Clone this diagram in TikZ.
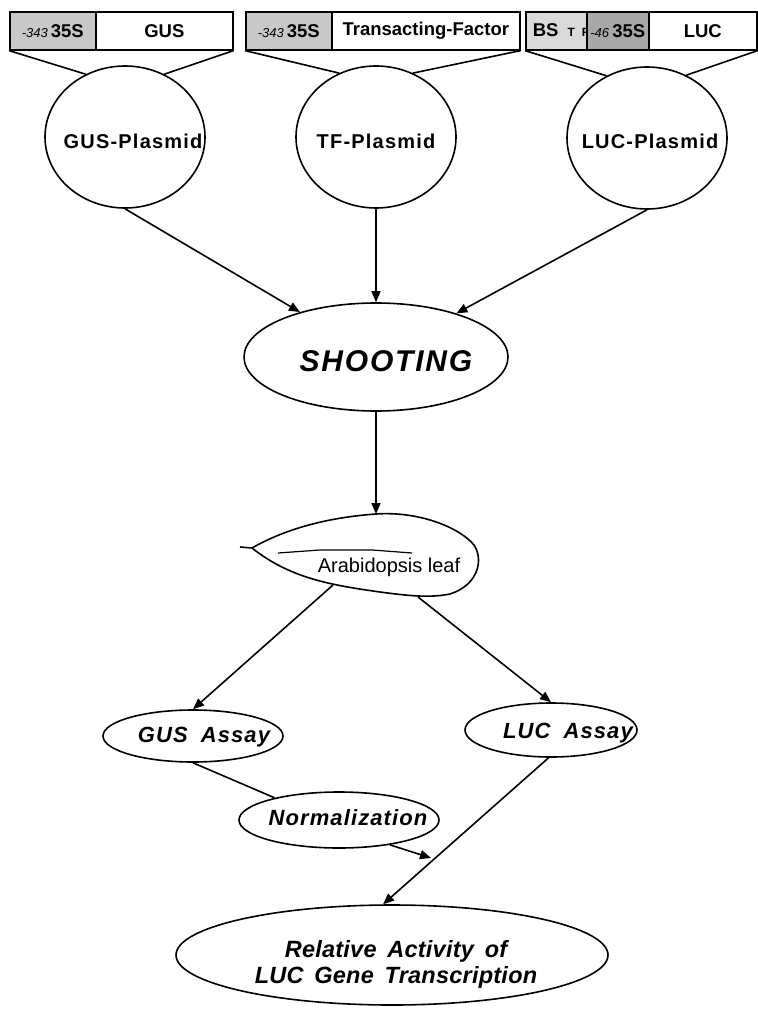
\documentclass[tikz,border=0pt]{standalone}
\usepackage{fontspec}
\setmainfont{Liberation Sans}
\newfontfamily\trackfont[LetterSpace=6]{Liberation Sans}
\newfontfamily\assayfont[LetterSpace=5,WordSpace=1.8]{Liberation Sans}
\newfontfamily\resultfont[LetterSpace=1,WordSpace=1.6]{Liberation Sans}
\usepackage{xcolor}
\usetikzlibrary{shapes,arrows.meta}
\definecolor{promgray}{RGB}{200,200,200}
\definecolor{bsgray}{RGB}{218,218,218}
\definecolor{coregray}{RGB}{168,168,168}

\begin{document}
\begin{tikzpicture}[x=1pt,y=-1pt,line width=1.6pt,
  seg/.style={draw,rectangle,anchor=north west,minimum height=38,inner sep=0,font=\fontsize{18.5}{18}\selectfont\bfseries},
  plasmid/.style={draw,ellipse,minimum width=160,minimum height=142,inner sep=0},
  plasmidtext/.style={inner sep=0,font=\trackfont\bfseries\fontsize{20}{20}\selectfont},
  oval/.style={draw,ellipse,inner sep=0},
  ovaltext/.style={inner sep=0,font=\assayfont\bfseries\itshape\fontsize{22}{22}\selectfont},
  arr/.style={-{Triangle[length=11pt,width=9pt]}}]
\useasboundingbox (0,0) rectangle (757,1011);

\node[seg,fill=promgray,minimum width=86] (p35a) at (9,11) {{\fontsize{13}{13}\selectfont\mdseries\itshape -343}\,35S};
\node[seg,minimum width=137] (gusseg) at (95,11) {GUS};
\node[seg,fill=promgray,minimum width=86] (p35b) at (245,11) {{\fontsize{13}{13}\selectfont\mdseries\itshape -343}\,35S};
\node[seg,minimum width=188] (tfseg) at (331,11) {Transacting-Factor};
\node[seg,fill=bsgray,minimum width=61] (bsseg) at (525,11) {};
\node[anchor=west,inner sep=0,font=\fontsize{18.5}{18}\selectfont\bfseries] (bstxt) at (532,30) {BS\hspace{9pt}{\fontsize{12}{12}\selectfont T\hspace{7pt}F}};
\node[seg,fill=coregray,minimum width=62] (p46) at (586,11) {{\fontsize{13}{13}\selectfont\mdseries\itshape -46}\,35S};
\node[seg,minimum width=108] (lucseg) at (648,11) {LUC};

\node[plasmid] (gusp) at (125,137) {};
\node[plasmidtext] (guspt) at (133,141) {GUS-Plasmid};
\node[plasmid] (tfp) at (376,137) {};
\node[plasmidtext] (tfpt) at (376,141) {TF-Plasmid};
\node[plasmid] (lucp) at (647,138) {};
\node[plasmidtext] (lucpt) at (650,141) {LUC-Plasmid};

\draw (p35a.south west) -- (gusp.122);
\draw (gusseg.south east) -- (gusp.58);
\draw (p35b.south west) -- (tfp.120);
\draw (tfseg.south east) -- (tfp.60);
\draw (bsseg.south west) -- (lucp.123);
\draw (lucseg.south east) -- (lucp.58);

\node[oval,minimum width=264,minimum height=108] (shoot) at (376,357) {};
\node[inner sep=0,font=\trackfont\bfseries\itshape\fontsize{30}{30}\selectfont] (shoottxt) at (386,361) {SHOOTING};

\draw (240,547) -- (252,548)
  .. controls (280,532) and (320,518) .. (376,514)
  .. controls (420,511) and (460,528) .. (474,545)
  .. controls (484,560) and (478,585) .. (450,594)
  .. controls (430,598) and (410,596) .. (380,592)
  .. controls (330,585) and (290,578) .. (252,548);
\draw[line width=1.2pt,line join=round] (278,553) -- (320,550) -- (372,550) -- (412,553);
\node[inner sep=0,font=\fontsize{20}{20}\selectfont] (leaftxt) at (389,567) {Arabidopsis leaf};
\coordinate (leaftop) at (376,514);
\coordinate (leafl) at (333,585);
\coordinate (leafr) at (418,597);

\node[oval,minimum width=180,minimum height=52] (gusa) at (193,736) {};
\node[ovaltext] (gusatxt) at (204,737) {GUS Assay};
\node[oval,minimum width=172,minimum height=54] (luca) at (551,730) {};
\node[ovaltext] (lucatxt) at (568,733) {LUC Assay};
\node[oval,minimum width=200,minimum height=56] (norm) at (339,820) {};
\node[ovaltext] (normtxt) at (348,818) {Normalization};
\node[oval,minimum width=432,minimum height=100] (rel) at (392,955) {};
\node[inner sep=0,align=center,font=\resultfont\bfseries\itshape\fontsize{23.5}{26}\selectfont] (reltxt) at (396,964) {Relative Activity of\\LUC Gene Transcription};
\coordinate (joint) at (431,858);

\draw[arr] (gusp.south) -- (shoot);
\draw[arr] (tfp.south) -- (shoot.north);
\draw[arr] (lucp.south) -- (shoot);
\draw[arr] (shoot.south) -- (leaftop);
\draw[arr] (leafl) -- (gusa.north);
\draw[arr] (leafr) -- (luca.north);
\draw (gusa.south) -- (norm.161);
\draw[arr] (norm.-26) -- (joint);
\draw[arr] (luca.265) -- (rel.100);
\end{tikzpicture}
\end{document}
